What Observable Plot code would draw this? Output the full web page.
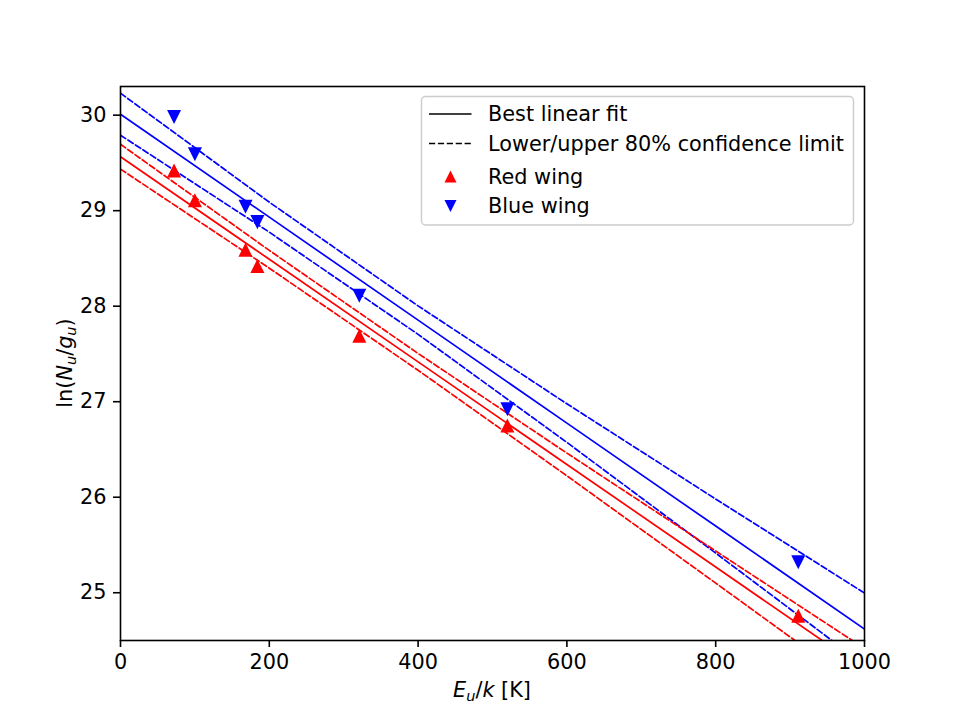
<!DOCTYPE html>
<html>
<head>
<meta charset="utf-8">
<script src="https://cdn.jsdelivr.net/npm/d3@7"></script>
<script src="https://cdn.jsdelivr.net/npm/@observablehq/plot@0.6"></script>
<style>
  html, body { margin: 0; padding: 0; background: #fff; }
  #chart { width: 960px; height: 720px; }
</style>
</head>
<body>
<div id="chart"></div>
<script>
// Observed points (E_u/k in K, ln(N_u/g_u))
const pointX = [72, 100, 168, 184, 321, 520, 911];
const redWing = [29.42, 29.11, 28.59, 28.42, 27.69, 26.75, 24.76];
const blueWing = [29.98, 29.59, 29.04, 28.88, 28.11, 26.92, 25.32];

// Fit lines and 80% confidence limits, read at these x positions
const fitX = [0, 200, 400, 600, 800, 1000];
const blueFit   = [30.01, 28.932, 27.854, 26.776, 25.698, 24.62];
const blueUpper = [30.23, 29.089, 28.003, 26.978, 25.981, 24.996];
const blueLower = [29.79, 28.775, 27.705, 26.574, 25.415, 24.244];
const redFit    = [29.565, 28.491, 27.417, 26.343, 25.269, 24.195];
const redUpper  = [29.695, 28.584, 27.505, 26.462, 25.437, 24.417];
const redLower  = [29.435, 28.398, 27.329, 26.224, 25.101, 23.973];

const xTicks = [0, 200, 400, 600, 800, 1000];
const yTicks = [25, 26, 27, 28, 29, 30];

const legendLabels = ["Best linear fit", "Lower/upper 80% confidence limit", "Red wing", "Blue wing"];

const RED = "#ff0000", BLUE = "#0000ff";
const lineW = 1.7;
const dash = "6.2,2.7";
const FS = "20.8px", SUB = "14.5px";

const toRows = (ys) => fitX.map((x, i) => ({x, y: ys[i]}));
const ptRows = (ys) => pointX.map((x, i) => ({x, y: ys[i]}));

// matplotlib-like isoceles triangles (width == height)
const triUp = {draw(ctx, size) { const r = Math.sqrt(size / Math.PI) * 0.9; ctx.moveTo(0, -r); ctx.lineTo(r, r); ctx.lineTo(-r, r); ctx.closePath(); }};
const triDown = {draw(ctx, size) { const r = Math.sqrt(size / Math.PI) * 0.9; ctx.moveTo(0, r); ctx.lineTo(r, -r); ctx.lineTo(-r, -r); ctx.closePath(); }};

const plot = Plot.plot({
  width: 960,
  height: 720,
  marginLeft: 120,
  marginRight: 96,
  marginTop: 86,
  marginBottom: 80,
  style: {fontFamily: "DejaVu Sans", fontSize: FS, color: "black", background: "white"},
  x: {domain: [0, 1000]},
  y: {domain: [24.5, 30.3]},
  marks: [
    Plot.line(toRows(blueUpper), {x: "x", y: "y", stroke: BLUE, strokeWidth: lineW, strokeDasharray: dash, clip: true}),
    Plot.line(toRows(blueFit),   {x: "x", y: "y", stroke: BLUE, strokeWidth: lineW, clip: true}),
    Plot.line(toRows(blueLower), {x: "x", y: "y", stroke: BLUE, strokeWidth: lineW, strokeDasharray: dash, clip: true}),
    Plot.line(toRows(redUpper),  {x: "x", y: "y", stroke: RED, strokeWidth: lineW, strokeDasharray: dash, clip: true}),
    Plot.line(toRows(redFit),    {x: "x", y: "y", stroke: RED, strokeWidth: lineW, clip: true}),
    Plot.line(toRows(redLower),  {x: "x", y: "y", stroke: RED, strokeWidth: lineW, strokeDasharray: dash, clip: true}),
    Plot.dot(ptRows(redWing),  {x: "x", y: "y", symbol: triUp, r: 7.8, fill: RED, stroke: "none"}),
    Plot.dot(ptRows(blueWing), {x: "x", y: "y", symbol: triDown, r: 7.8, fill: BLUE, stroke: "none"}),
    Plot.frame({stroke: "black", strokeWidth: 1.6}),
    Plot.axisX({ticks: xTicks, tickSize: 7, tickPadding: 7, tickFormat: d3.format("d"), label: null, strokeWidth: 1.6}),
    Plot.axisY({ticks: yTicks, tickSize: 7, tickPadding: 7, tickFormat: d3.format("d"), label: null, strokeWidth: 1.6})
  ]
});

document.getElementById("chart").appendChild(plot);

const svg = d3.select(plot);
const font = "DejaVu Sans";

// Axis labels
const xl = svg.append("text")
  .attr("x", 492).attr("y", 697)
  .attr("text-anchor", "middle")
  .attr("font-family", font).attr("font-size", FS).attr("fill", "black");
xl.append("tspan").attr("font-style", "italic").text("E");
xl.append("tspan").attr("font-style", "italic").attr("font-size", SUB).attr("dy", 4).text("u");
xl.append("tspan").attr("dy", -4).text("/");
xl.append("tspan").attr("font-style", "italic").text("k");
xl.append("tspan").text(" [K]");

const yl = svg.append("text")
  .attr("transform", "translate(72,363) rotate(-90)")
  .attr("text-anchor", "middle")
  .attr("font-family", font).attr("font-size", FS).attr("fill", "black");
yl.append("tspan").text("ln(");
yl.append("tspan").attr("font-style", "italic").text("N");
yl.append("tspan").attr("font-style", "italic").attr("font-size", SUB).attr("dy", 4).text("u");
yl.append("tspan").attr("dy", -4).text("/");
yl.append("tspan").attr("font-style", "italic").text("g");
yl.append("tspan").attr("font-style", "italic").attr("font-size", SUB).attr("dy", 4).text("u");
yl.append("tspan").attr("dy", -4).text(")");

// Legend
const lg = svg.append("g").attr("text-anchor", "start");
lg.append("rect")
  .attr("x", 421.5).attr("y", 96.5).attr("width", 432).attr("height", 128.5)
  .attr("rx", 4).attr("ry", 4)
  .attr("fill", "white").attr("fill-opacity", 0.8)
  .attr("stroke", "#cccccc").attr("stroke-width", 1.4);
const rowY = [114, 143.5, 176.5, 206];
lg.append("line").attr("x1", 429).attr("x2", 471.5).attr("y1", rowY[0]).attr("y2", rowY[0])
  .attr("stroke", "black").attr("stroke-width", lineW);
lg.append("line").attr("x1", 429).attr("x2", 471.5).attr("y1", rowY[1]).attr("y2", rowY[1])
  .attr("stroke", "black").attr("stroke-width", lineW).attr("stroke-dasharray", dash);
const s = 6;
lg.append("path").attr("d", `M${450.5},${rowY[2]-s}L${450.5+s},${rowY[2]+s}L${450.5-s},${rowY[2]+s}Z`).attr("fill", RED);
lg.append("path").attr("d", `M${450.5},${rowY[3]+s}L${450.5+s},${rowY[3]-s}L${450.5-s},${rowY[3]-s}Z`).attr("fill", BLUE);
legendLabels.forEach((t, i) => {
  lg.append("text").attr("x", 488).attr("y", rowY[i]).attr("dy", "0.36em")
    .attr("text-anchor", "start")
    .attr("font-family", font).attr("font-size", FS).attr("fill", "black").text(t);
});
</script>
</body>
</html>
